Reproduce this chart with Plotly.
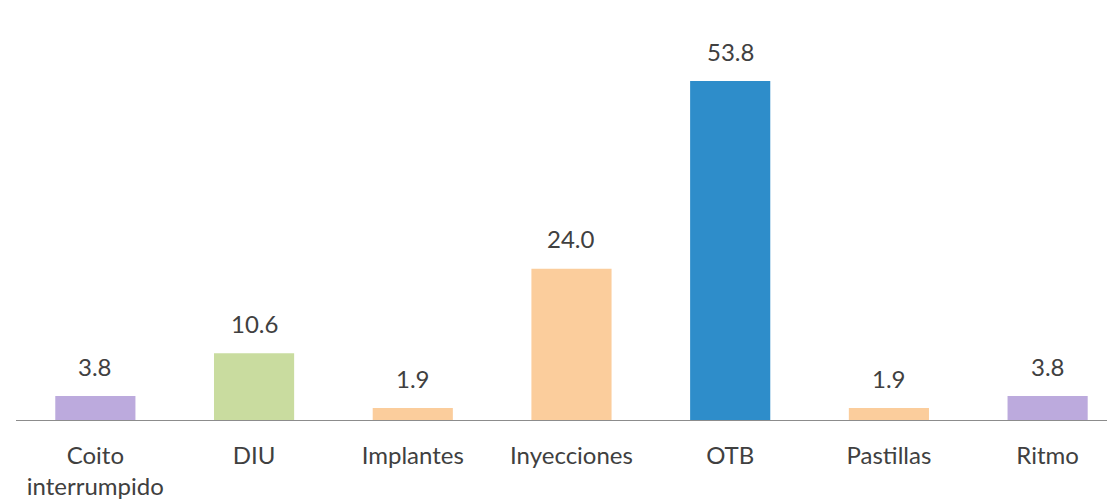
import plotly.graph_objects as go

categories = ["Coito<br>interrumpido", "DIU", "Implantes", "Inyecciones", "OTB", "Pastillas", "Ritmo"]
values = [3.8, 10.6, 1.9, 24.0, 53.8, 1.9, 3.8]
value_labels = ["3.8", "10.6", "1.9", "24.0", "53.8", "1.9", "3.8"]
bar_colors = ["#BCAADD", "#C9DC9F", "#FBCD9C", "#FBCD9C", "#2E8DCA", "#FBCD9C", "#BCAADD"]

x = list(range(len(categories)))
FONT = "Lato, Open Sans, sans-serif"

fig = go.Figure()
fig.add_trace(go.Bar(
    x=x, y=values, marker=dict(color=bar_colors, line=dict(width=0)),
    width=0.505, hoverinfo="skip",
))

for xi, v, lab in zip(x, values, value_labels):
    fig.add_annotation(x=xi, y=v, text=lab, showarrow=False, yshift=30,
                       font=dict(family=FONT, size=24, color="#404040"))

fig.update_layout(
    width=1115, height=499,
    margin=dict(l=8, r=0, t=0, b=87),
    paper_bgcolor="white", plot_bgcolor="white",
    showlegend=False,
    font=dict(family=FONT, size=24, color="#404040"),
    xaxis=dict(
        tickmode="array", tickvals=x, ticktext=categories,
        range=[-0.5, 6.475], showgrid=False, zeroline=False,
        showline=True, linecolor="#8C8C8C", linewidth=1,
        ticks="", ticklabelstandoff=14, automargin=False,
        tickfont=dict(family=FONT, size=24, color="#404040"),
    ),
    yaxis=dict(range=[0, 65.4], visible=False, showgrid=False, zeroline=False,
               automargin=False),
)

fig.write_html("out.html")
